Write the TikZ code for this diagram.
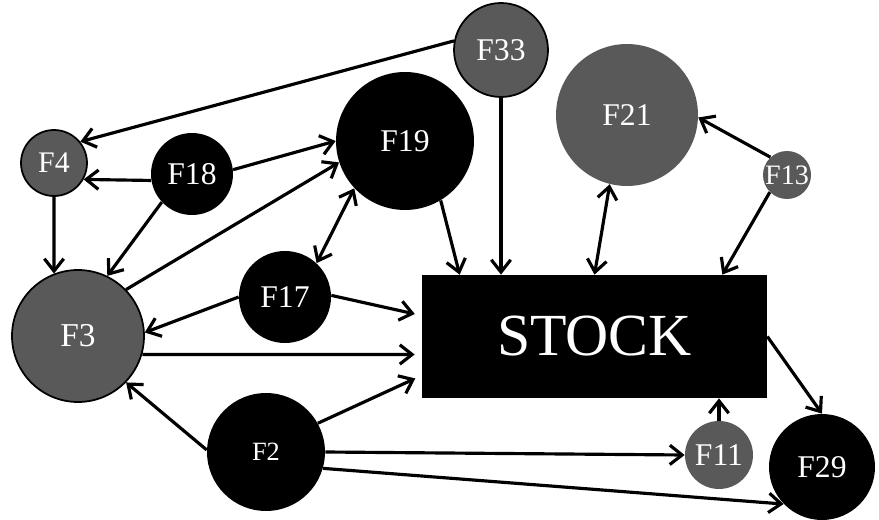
\documentclass[tikz,border=0pt]{standalone}
\usepackage{fontspec}
\setmainfont{Liberation Serif}
\usetikzlibrary{arrows.meta}

\begin{document}
\begin{tikzpicture}[x=0.02cm, y=-0.02cm,
    fact/.style={circle, inner sep=0pt, text=white, font=\fontsize{18}{18}\selectfont},
    blk/.style={fact, fill=black},
    gry/.style={fact, fill=black!65},
    gryline/.style={gry, draw=black, line width=1pt},
    link/.style={-{Straight Barb[length=7pt,width=11pt]}, line width=1.8pt},
    both/.style={{Straight Barb[length=7pt,width=11pt]}-{Straight Barb[length=7pt,width=11pt]}, line width=1.8pt},
    tostock/.style={link, shorten >=4pt}]
      \useasboundingbox (0,0) rectangle (879,520);

      % factors
      \node[gryline, minimum size=1.88cm] (F33) at (501,50) {F33};
      \node[gry, minimum size=2.84cm] (F21) at (627,115) {F21};
      \node[gry, minimum size=0.96cm, font=\fontsize{16}{16}\selectfont] (F13) at (787,175) {F13};
      \node[blk, minimum size=2.76cm] (F19) at (405,141) {F19};
      \node[gryline, minimum size=1.32cm, font=\fontsize{17}{17}\selectfont] (F4) at (54,163) {F4};
      \node[blk, minimum size=1.64cm] (F18) at (192,174) {F18};
      \node[blk, minimum size=1.84cm] (F17) at (285,297) {F17};
      \node[gryline, minimum size=2.64cm, font=\fontsize{19}{19}\selectfont] (F3) at (78,336) {F3};
      \node[blk, minimum size=2.36cm, font=\fontsize{15}{15}\selectfont] (F2) at (266,452) {F2};
      \node[gry, minimum size=1.36cm] (F11) at (719,455) {F11};
      \node[blk, minimum size=2.12cm] (F29) at (822,467) {F29};
      \node[fill=black, text=white, minimum width=6.9cm, minimum height=2.46cm,
            inner sep=0pt, font=\fontsize{34}{34}\selectfont] (STOCK) at (594.5,336.5) {STOCK};

      % links
      \draw[link] (F33.169) -- (F4.39);
      \draw[link] (F33) -- (F33 |- STOCK.north);
      \draw[link] (F18.189) -- (F4.-29);
      \draw[link] (F18.6) -- (F19.180);
      \draw[link] (F18.223) -- (F3.64);
      \draw[link] (F4.south) -- (F3.111);
      \draw[link] (F3.44) -- (F19.198);
      \draw[both] (F17.47) -- (F19.223);
      \draw[link] (F17.180) -- (F3.3);
      \draw[tostock] (F17.2) -- ([yshift=0.42cm]STOCK.west);
      \draw[tostock] (F3.-16) -- ([yshift=-0.36cm]STOCK.west);
      \draw[link] (F19.-59) -- ([xshift=0.76cm]STOCK.north west);
      \draw[both] (F21.256) -- (STOCK.north);
      \draw[link] (F13.133) -- (F21.-2);
      \draw[link] (F13.225) -- ([xshift=-0.9cm]STOCK.north east);
      \draw[link] (F2.178) -- (F3.-44);
      \draw[tostock] (F2.29) -- ([yshift=-0.78cm]STOCK.west);
      \draw[link] (F2.0) -- (F11.180);
      \draw[link] (F2.-16) -- (F29.224);
      \draw[link] (F11) -- (F11 |- STOCK.south);
      \draw[link] (STOCK.east) -- (F29.north);
\end{tikzpicture}
\end{document}
